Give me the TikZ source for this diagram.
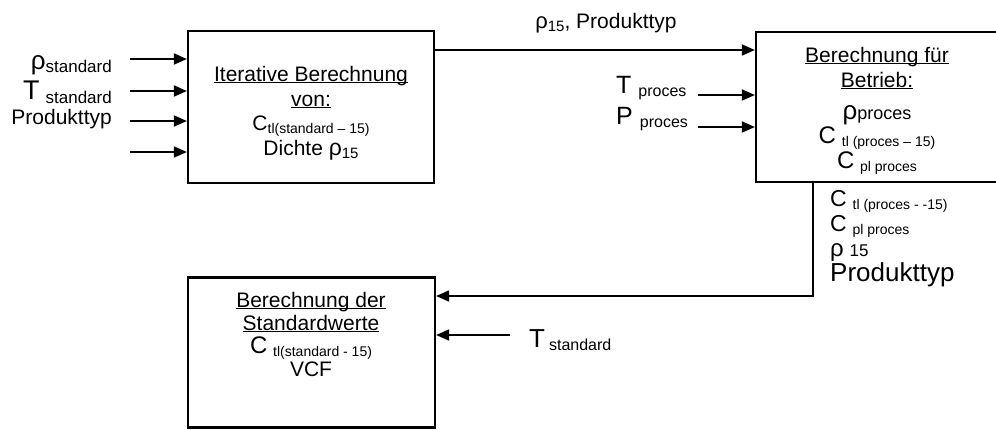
\documentclass[tikz,border=0pt]{standalone}
\usepackage{fontspec}
\setmainfont{Liberation Sans}
\usetikzlibrary{arrows.meta}
\newcommand\fs[1]{\fontsize{#1}{#1}\selectfont}
\newcommand\lo[2][14]{\raisebox{-3pt}{\fs{#1}#2}}
\newcommand\ul[1]{\setbox0\hbox{#1}\rlap{\rule[-2.2pt]{\wd0}{1.2pt}}\box0}
\begin{document}
\begin{tikzpicture}[x=1pt,y=-1pt,
  box/.style={draw,line width=2.2pt,inner sep=0pt},
  conn/.style={line width=1.8pt,-{Triangle[length=13pt,width=11pt]}},
  txt/.style={inner sep=0pt,font=\fs{21}},
  ]
\useasboundingbox (0,0) rectangle (996,429);
% boxes
\node[box,minimum width=246pt,minimum height=152pt] (b1) at (311,107) {};
\node[box,minimum width=244pt,minimum height=150pt] (b2) at (878,107) {};
\node[box,minimum width=247pt,minimum height=150pt] (b3) at (311.5,352.5) {};
% box 1 text
\node[txt,anchor=base] (b1t1) at (311,81) {\ul{Iterative Berechnung}};
\node[txt,anchor=base] (b1t2) at (311,106) {\ul{von:}};
\node[txt,anchor=base] (b1t3) at (311,130) {C\lo{tl(standard -- 15)}};
\node[txt,anchor=base] (b1t4) at (311,155) {Dichte {\fs{23}ρ}\lo[15]{15}};
% box 2 text
\node[txt,anchor=base] (b2t1) at (877,62) {\ul{Berechnung für}};
\node[txt,anchor=base] (b2t2) at (877,87) {\ul{Betrieb:}};
\node[txt,anchor=base] (b2t3) at (877,119) {{\fs{26}ρ}{\fs{18}proces}};
\node[txt,anchor=base] (b2t4) at (877,143) {{\fs{24}C} \lo{tl (proces -- 15)}};
\node[txt,anchor=base] (b2t5) at (877,168) {{\fs{24}C} \lo{pl proces}};
% box 3 text
\node[txt,anchor=base] (b3t1) at (311,307) {\ul{Berechnung der}};
\node[txt,anchor=base] (b3t2) at (311,330) {\ul{Standardwerte}};
\node[txt,anchor=base] (b3t3) at (311,353) {{\fs{24}C} \lo{tl(standard - 15)}};
\node[txt,anchor=base] (b3t4) at (311,376) {VCF};
% left inputs
\foreach \i/\y in {1/59,2/91,3/121,4/152}{
  \coordinate (in\i) at (130,\y);
  \draw[conn] (in\i) -- (in\i -| b1.west);
}
\node[txt,anchor=base east] (lrho) at (112,72) {\raisebox{3pt}{\fs{26}ρ}{\fs{17}standard}};
\node[txt,anchor=base east] (lT) at (112,99) {{\fs{27}T}\hspace{6pt}\raisebox{-4pt}{\fs{17}standard}};
\node[txt,anchor=base east] (lP) at (112,124) {Produkttyp};
% top connector
\coordinate (top) at (600,50);
\draw[conn] (b1.east |- top) -- (b2.west |- top);
\node[txt,anchor=base] (toplab) at (606,28) {{\fs{22}ρ}\lo[15]{15}, Produkttyp};
% process inputs
\coordinate (tp) at (698,95);
\coordinate (pp) at (698,127);
\draw[conn] (tp) -- (tp -| b2.west);
\draw[conn] (pp) -- (pp -| b2.west);
\node[txt,anchor=base west] (Tproc) at (616,93) {{\fs{25}T}\hspace{7pt}\lo[16]{proces}};
\node[txt,anchor=base west] (Pproc) at (616,124) {{\fs{25}P}\hspace{7pt}\lo[16]{proces}};
% feedback connector
\coordinate (dn) at (813,296);
\draw[conn] (b2.south -| dn) -- (dn) -- (dn -| b3.east);
\node[txt,anchor=base west] (o1) at (830,206) {{\fs{23}C} \lo{tl (proces - -15)}};
\node[txt,anchor=base west] (o2) at (830,231) {{\fs{23}C} \lo{pl proces}};
\node[txt,anchor=base west] (o3) at (830,256) {{\fs{24}ρ} {\fs{17}15}};
\node[txt,anchor=base west] (o4) at (830,281) {\fs{26}Produkttyp};
% T standard into box 3
\coordinate (ts) at (510,335);
\draw[conn] (ts) -- (ts -| b3.east);
\node[txt,anchor=base west] (Tstd) at (529,347) {{\fs{26}T}\hspace{4pt}\lo[16]{standard}};
\end{tikzpicture}
\end{document}
